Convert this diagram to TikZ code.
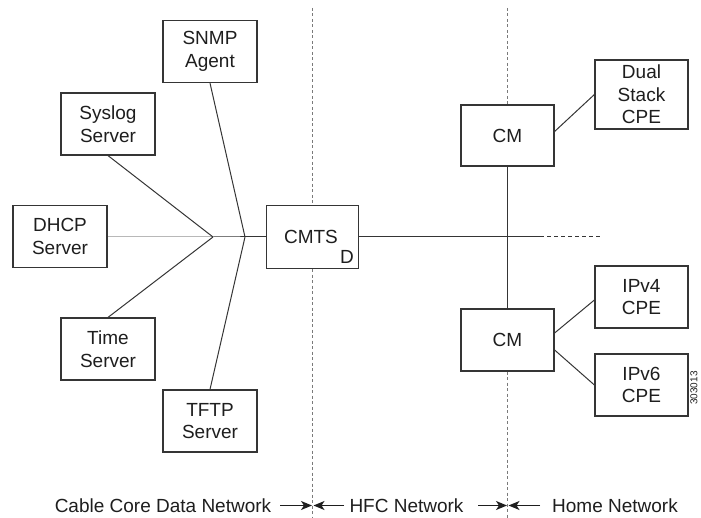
\documentclass[tikz,border=0pt]{standalone}
\usepackage{fontspec}
\setmainfont{Liberation Sans}
\usetikzlibrary{arrows.meta,calc}
\definecolor{ink}{HTML}{1E1E1E}
\definecolor{linec}{HTML}{353535}
\definecolor{dotc}{HTML}{7A7A7A}
\begin{document}
\begin{tikzpicture}[x=1pt,y=-1pt,
  box/.style={draw=linec,line width=1.2pt,fill=white,minimum width=94pt,minimum height=62pt,inner sep=0pt,align=center,text=ink,font=\fontsize{19}{22.5}\selectfont},
  conn/.style={draw=linec,line width=1pt},
  divider/.style={draw=dotc,line width=0.9pt,dash pattern=on 3pt off 2.5pt},
  lbl/.style={text=ink,font=\fontsize{19}{22.5}\selectfont,inner sep=0pt},
  tip/.style={draw=ink,line width=1.2pt,-{Stealth[length=11pt,width=9pt,inset=3pt]}}]
\useasboundingbox (0,0) rectangle (701,518);
% boxes
\node[box] (snmp) at (210,51.5) {SNMP\\Agent};
\node[box] (syslog) at (108,124) {Syslog\\Server};
\node[box] (dhcp) at (60,236.5) {DHCP\\Server};
\node[box] (time) at (108,349) {Time\\Server};
\node[box] (tftp) at (210,421) {TFTP\\Server};
\node[box,minimum width=92pt,minimum height=63pt] (cmts) at (312.5,237) {};
\node[lbl] (cmtst) at (311,237) {CMTS};
\node[lbl] (cmtsd) at (347,256.5) {D};
\node[box,minimum width=93pt,minimum height=61pt] (cm1) at (507.5,135.5) {CM};
\node[box,minimum width=93pt,minimum height=69pt] (dual) at (641.5,94.5) {Dual\\Stack\\CPE};
\node[box,minimum width=93pt] (cm2) at (507.5,340) {CM};
\node[box,minimum width=93pt] (ipv4) at (641.5,297) {IPv4\\CPE};
\node[box,minimum width=93pt] (ipv6) at (641.5,385) {IPv6\\CPE};
% junctions
\coordinate (j1) at (213,237);
\coordinate (j2) at (245,237);
\coordinate (hend) at (540,237);
\coordinate (hdash) at (600,237);
% connectors
\draw[conn] (syslog.south) -- (j1);
\draw[conn] (time.north) -- (j1);
\draw[conn] (dhcp.east |- j1) -- (j1) -- (cmts.west);
\draw[conn] (snmp.south) -- (j2);
\draw[conn] (tftp.north) -- (j2);
\draw[conn] (cmts.east) -- (hend);
\draw[conn,dash pattern=on 4pt off 3pt] (hend) -- (hdash);
\draw[conn] (cm1.south) -- (cm2.north);
\draw[conn] ([yshift=4pt]cm1.east) -- (dual.west);
\draw[conn] ([yshift=7pt]cm2.east) -- ([yshift=-3pt]ipv4.west);
\draw[conn] ([yshift=-10pt]cm2.east) -- (ipv6.west);
% dividers
\coordinate (d1t) at (312.5,8);
\coordinate (d1b) at (312.5,518);
\coordinate (d2t) at (507.5,8);
\coordinate (d2b) at (507.5,518);
\draw[divider] (d1t) -- (cmts.north);
\draw[divider] (cmts.south) -- (d1b);
\draw[divider] (d2t) -- (cm1.north);
\draw[divider] (cm2.south) -- (d2b);
% bottom labels
\node[lbl] (core) at (163,505.5) {Cable Core Data Network};
\node[lbl] (hfc) at (406.5,505.5) {HFC Network};
\node[lbl] (home) at (615,505.5) {Home Network};
\coordinate (a1s) at (280,505.5); \coordinate (a1e) at (312,505.5);
\coordinate (a2s) at (344,505.5); \coordinate (a2e) at (313.5,505.5);
\coordinate (a3s) at (478,505.5); \coordinate (a3e) at (507,505.5);
\coordinate (a4s) at (540,505.5); \coordinate (a4e) at (508.5,505.5);
\draw[tip] (a1s) -- (a1e);
\draw[tip] (a2s) -- (a2e);
\draw[tip] (a3s) -- (a3e);
\draw[tip] (a4s) -- (a4e);
% figure number
\node[lbl,rotate=90,font=\fontsize{10}{12}\selectfont] (fig) at (694,388) {303013};
\end{tikzpicture}
\end{document}
